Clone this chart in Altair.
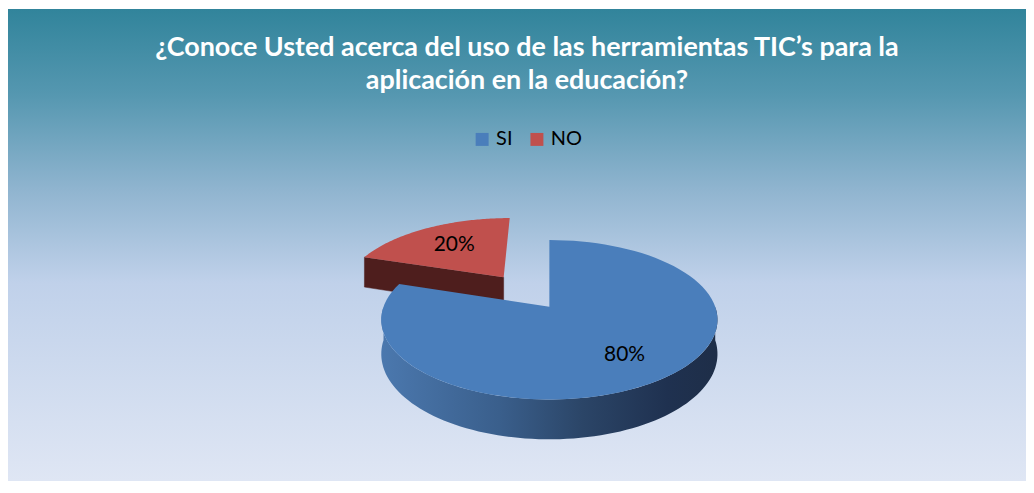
import numpy as np
import pandas as pd
import altair as alt

# ---------------- data ----------------
title_lines = ["¿Conoce Usted acerca del uso de las herramientas TIC’s para la",
               "aplicación en la educación?"]
categories = ["SI", "NO"]
values = [80, 20]
colors_top = ["#4A7EBB", "#C0504D"]

# ---------------- layout (chart pixel space) ----------------
W, H = 1022, 474
CX, CY = 543.5, 299.0      # pie centre
RX, RY = 166.5, 77.9       # top-face radii
PERSP = 0.163              # perspective strength
DEPTH = 33.5               # pie thickness
EXPLODE = {"NO": 0.5}
N = 90


def proj(u, v, z=0.0):
    d = 1.0 - PERSP * v
    return CX + RX * u / d, CY + (RY * v + z) / d


total = float(sum(values))
starts = np.cumsum([0] + values[:-1]) / total * 2 * np.pi
ends = np.cumsum(values) / total * 2 * np.pi

top_rows, side_rows, wall_rows, label_rows = [], [], [], []
for cat, v, a0, a1 in zip(categories, values, starts, ends):
    mid = (a0 + a1) / 2
    e = EXPLODE.get(cat, 0.0)
    eu, ev = e * np.sin(mid), -e * np.cos(mid)
    # top face
    pts = [(eu, ev)] + [(eu + np.sin(t), ev - np.cos(t)) for t in np.linspace(a0, a1, N)]
    for i, (u, w) in enumerate(pts):
        x, y = proj(u, w)
        top_rows.append({"cat": cat, "i": i, "x": x, "y": y})
    # radial face at start edge (visible when facing viewer)
    if np.sin(a0) < -1e-9:
        ou, ov = eu + np.sin(a0), ev - np.cos(a0)
        quad = [proj(eu, ev), proj(ou, ov), proj(ou, ov, DEPTH), proj(eu, ev, DEPTH)]
        for i, (x, y) in enumerate(quad):
            side_rows.append({"cat": cat, "i": i, "x": x, "y": y})
    # outer front wall
    lo, hi = max(a0, np.pi / 2), min(a1, 3 * np.pi / 2)
    if hi > lo:
        ts = np.linspace(lo, hi, N)
        ring = [proj(eu + np.sin(t), ev - np.cos(t)) for t in ts] + \
               [proj(eu + np.sin(t), ev - np.cos(t), DEPTH) for t in ts[::-1]]
        for i, (x, y) in enumerate(ring):
            wall_rows.append({"cat": cat, "i": i, "x": x, "y": y})
    # label
    r = 0.7 if e == 0 else 0.62
    lx, ly = proj(eu + r * np.sin(mid), ev - r * np.cos(mid))
    label_rows.append({"cat": cat, "x": lx, "y": ly, "label": f"{round(v / total * 100)}%"})

top_df = pd.DataFrame(top_rows)
side_df = pd.DataFrame(side_rows)
wall_df = pd.DataFrame(wall_rows)
label_df = pd.DataFrame(label_rows)

xs = alt.Scale(domain=[0, W], nice=False, zero=False)
ys = alt.Scale(domain=[0, H], nice=False, zero=False, reverse=True)
X = alt.X("x:Q", scale=xs, axis=None)
Y = alt.Y("y:Q", scale=ys, axis=None)

bg = alt.Chart(pd.DataFrame({"a": [0]})).mark_rect(
    fill=alt.LinearGradient(
        gradient="linear", x1=0, x2=0, y1=0, y2=1,
        stops=[alt.GradientStop(offset=0, color="#31849B"),
               alt.GradientStop(offset=0.18, color="#5597B0"),
               alt.GradientStop(offset=0.38, color="#8FB4CF"),
               alt.GradientStop(offset=0.58, color="#C0D1EA"),
               alt.GradientStop(offset=1, color="#DFE6F4")])
).encode(x=alt.value(0), x2=alt.value(W), y=alt.value(0), y2=alt.value(H))

side = alt.Chart(side_df).mark_line(
    interpolate="linear-closed", filled=True, fill="#4E1E1D", stroke="#4E1E1D", strokeWidth=0.5
).encode(x=X, y=Y, order="i:Q", detail="cat:N")

wall = alt.Chart(wall_df).mark_line(
    interpolate="linear-closed", filled=True, strokeWidth=0,
    fill=alt.LinearGradient(
        gradient="linear", x1=0, x2=1, y1=0, y2=0,
        stops=[alt.GradientStop(offset=0, color="#4B78AE"),
               alt.GradientStop(offset=0.35, color="#3A5F8C"),
               alt.GradientStop(offset=0.6, color="#2B4567"),
               alt.GradientStop(offset=0.85, color="#1F3150"),
               alt.GradientStop(offset=1, color="#1E2E48")])
).encode(x=X, y=Y, order="i:Q", detail="cat:N")

top = alt.Chart(top_df).mark_line(
    interpolate="linear-closed", filled=True, strokeWidth=0
).encode(
    x=X, y=Y, order="i:Q", detail="cat:N",
    color=alt.Color("cat:N", scale=alt.Scale(domain=categories, range=colors_top),
                    legend=alt.Legend(title=None, orient="none", direction="horizontal",
                                      legendX=466, legendY=121, symbolType="square",
                                      symbolSize=169, symbolStrokeWidth=0, labelFontSize=20,
                                      labelFont="Lato", labelColor="#000000", labelOffset=4,
                                      columnPadding=14, padding=0))
)

labels = alt.Chart(label_df).mark_text(
    font="Lato", fontSize=21, color="#000000", align="center", baseline="middle"
).encode(x=X, y=Y, text="label:N")

title_df = pd.DataFrame({"t": title_lines, "row": [0, 1]})
title = alt.Chart(title_df).transform_calculate(
    ty="39 + datum.row * 33"
).mark_text(
    font="Lato", fontSize=27, fontWeight="bold", color="#FFFFFF", align="center", baseline="middle"
).encode(x=alt.value(521), y=alt.Y("ty:Q", scale=ys, axis=None), text="t:N")

chart = alt.layer(bg, side, wall, top, labels, title).properties(
    width=W, height=H, padding=0
).configure_view(strokeWidth=0)

chart.save("out.html", embed_options={"renderer": "svg", "actions": False})
